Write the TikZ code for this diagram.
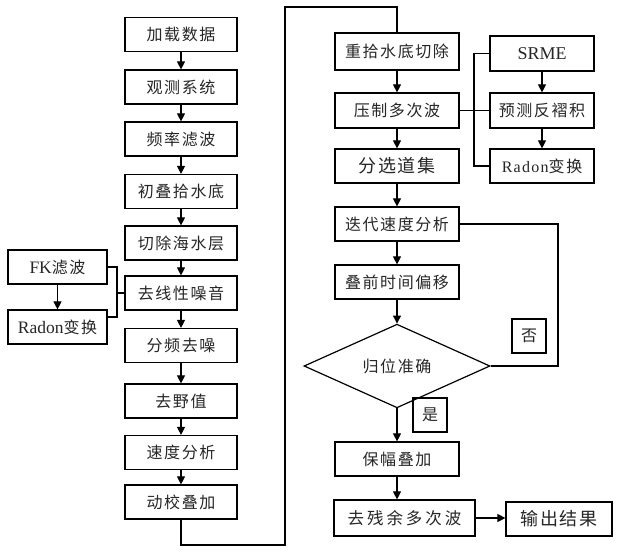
\documentclass[tikz,border=0pt]{standalone}
\usepackage{fontspec}
\setmainfont{Liberation Serif}
\newfontfamily\cjk{Noto Sans CJK SC}[LetterSpace=10]
\newfontfamily\latsp{Liberation Serif}[LetterSpace=8]
\usetikzlibrary{shapes.geometric,arrows.meta}
\begin{document}
\begin{tikzpicture}[x=1pt,y=-1pt,
  box/.style={draw, line width=1.2pt, minimum width=#1, minimum height=34pt, inner sep=0pt,
    text=black!85, font=\cjk\fontsize{16}{18}\selectfont},
  box/.default=112pt,
  bigtext/.style={font=\cjk\fontsize{18}{20}\selectfont},
  lbl/.style={draw, line width=1.2pt, minimum width=34pt, minimum height=34pt, inner sep=0pt,
    text=black!85, font=\cjk\fontsize{16}{18}\selectfont},
  dia/.style={draw, line width=1.2pt, diamond, minimum width=186pt, minimum height=64pt, inner sep=0pt,
    text=black!85, font=\cjk\fontsize{16}{18}\selectfont},
  conn/.style={line width=1.1pt},
  arr/.style={conn, -{Triangle[length=8pt,width=8pt]}}
]
\fill[white] (0,0) rectangle (617,557);
\useasboundingbox (0,0) rectangle (617,557);

% left column
\node[box] (b1) at (181,34.5) {加载数据};
\node[box] (b2) at (181,87) {观测系统};
\node[box] (b3) at (181,139) {频率滤波};
\node[box] (b4) at (181,191.5) {初叠拾水底};
\node[box] (b5) at (181,243) {切除海水层};
\node[box] (b6) at (181,293) {去线性噪音};
\node[box] (b7) at (181,345.5) {分频去噪};
\node[box] (b8) at (181,401) {去野值};
\node[box] (b9) at (181,452.5) {速度分析};
\node[box] (b10) at (181,502) {动校叠加};

% left side branch
\node[box=99pt] (fk) at (57.5,267) {{\rmfamily\fontsize{17.5}{18}\selectfont FK}滤波};
\node[box=99pt] (rl) at (57.5,327) {{\rmfamily\fontsize{17.5}{18}\selectfont Radon}变换};

% middle column
\node[box=124pt, minimum height=37pt] (m1) at (397,51.5) {重拾水底切除};
\node[box=124pt, minimum height=35pt] (m2) at (397,110.5) {压制多次波};
\node[box=124pt, bigtext] (m3) at (397,166) {分选道集};
\node[box=124pt] (m4) at (397,224) {迭代速度分析};
\node[box=124pt] (m5) at (397,282) {叠前时间偏移};
\node[dia] (d) at (397,366) {归位准确};
\node[box=124pt] (m6) at (397,459) {保幅叠加};
\node[box=141pt, minimum height=36pt, font=\cjk\fontsize{16.5}{18}\selectfont\addfontfeature{LetterSpace=18}] (m7) at (404.5,518) {去残余多次波};
\node[box=106pt, bigtext] (out) at (559,519) {输出结果};

% right branch
\node[box=104pt, minimum height=35pt] (s1) at (542,53.5) {\rmfamily\fontsize{18}{18}\selectfont SRME};
\node[box=104pt, minimum height=35pt] (s2) at (542,110.5) {预测反褶积};
\node[box=104pt] (s3) at (542,166) {{\latsp\fontsize{16}{18}\selectfont Radon}变换};

% labels
\node[lbl] (no) at (529,336) {否};
\node[lbl] (yes) at (430,415) {是};

% coordinates
\coordinate (lb1) at (117,267);
\coordinate (lb2) at (117,317);
\coordinate (lb3) at (117,293);
\coordinate (lp1) at (181,545);
\coordinate (lp2) at (285,545);
\coordinate (lp3) at (285,7);
\coordinate (lp4) at (397,7);
\coordinate (rb1) at (474,53.5);
\coordinate (rb2) at (474,110.5);
\coordinate (rb3) at (474,166);
\coordinate (fb1) at (558,366);

% left column arrows
\draw[arr] (b1) -- (b2);
\draw[arr] (b2) -- (b3);
\draw[arr] (b3) -- (b4);
\draw[arr] (b4) -- (b5);
\draw[arr] (b5) -- (b6);
\draw[arr] (b6) -- (b7);
\draw[arr] (b7) -- (b8);
\draw[arr] (b8) -- (b9);
\draw[arr] (b9) -- (b10);

% left bracket
\draw[arr] (fk) -- (rl);
\draw[conn] (fk.east) -- (lb1) -- (lb2) -- (rl.north east |- lb2);
\draw[conn] (lb3) -- (b6.west);

% loop to middle column
\draw[conn] (b10.south) -- (lp1) -- (lp2) -- (lp3) -- (lp4) -- (m1.north);

% middle arrows
\draw[arr] (m1) -- (m2);
\draw[arr] (m2) -- (m3);
\draw[arr] (m3) -- (m4);
\draw[arr] (m4) -- (m5);
\draw[arr] (m5) -- (d.north);
\draw[arr] (d.south) -- (m6);
\draw[arr] (m6.south) -- (m6.south |- m7.north);
\draw[arr] (m7) -- (out.west |- m7.east);

% right bracket
\draw[conn] (m2.east) -- (rb2) -- (s2.west);
\draw[conn] (s1.west) -- (rb1) -- (rb3) -- (s3.west);
\draw[arr] (s1) -- (s2);
\draw[arr] (s2) -- (s3);

% feedback
\draw[conn] (d.east) -- (fb1) |- (m4.east);
\end{tikzpicture}
\end{document}
